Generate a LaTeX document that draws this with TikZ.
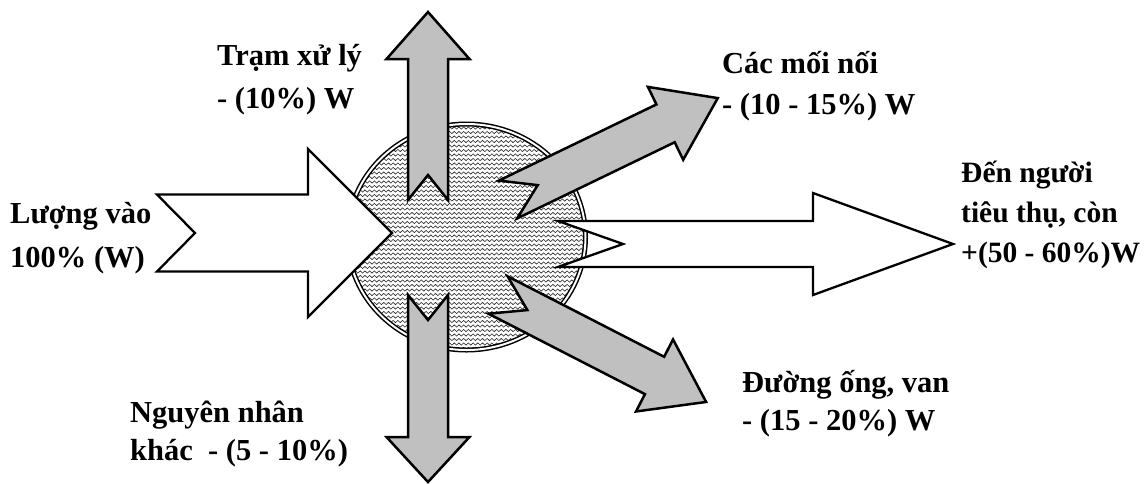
\documentclass[tikz,border=0pt]{standalone}
\usepackage{fontspec}
\setmainfont{Liberation Serif}
\usetikzlibrary{decorations.pathmorphing}
\definecolor{arrgray}{RGB}{192,192,192}
% notched block arrow: style, tail centre, angle, length, half shaft, half head, head length, notch
\newcommand{\flowarrow}[8]{%
  \draw[#1,shift={#2},rotate=#3] (0,-#5) -- ({#4-#7},-#5) -- ({#4-#7},-#6) -- (#4,0)
    -- ({#4-#7},#6) -- ({#4-#7},#5) -- (0,#5) -- (#8,0) -- cycle;}

\begin{document}
\begin{tikzpicture}[x=1pt,y=-1pt,
  lbl/.style={font=\bfseries\fontsize{30.5}{#1}\selectfont,align=left,anchor=base west,inner sep=0pt},
  lbl/.default=41,
  outarr/.style={line width=2.5pt,line join=miter,fill=arrgray},
  inarr/.style={line width=2.3pt,line join=miter,fill=white},
  wave/.style={black!85,line width=0.6pt,decorate,decoration={snake,segment length=4.7pt,amplitude=1.1pt}}]
\useasboundingbox (0,0) rectangle (1145,483);
\coordinate (O) at (466.5,237);
% textured tank
\begin{scope}
\clip (O) ellipse (119 and 113);
\foreach \y in {119,123.5,...,356}{\draw[wave] (340,\y) -- (600,\y);}
\end{scope}
\draw[line width=1.5pt,double,double distance=2pt] (O) ellipse (119 and 113);
% flows
\flowarrow{inarr}{(157,233)}{0}{235}{38.5}{84}{84}{38}
\flowarrow{inarr}{(558,244)}{0}{395}{23}{51}{140}{65}
\flowarrow{outarr}{(428,200)}{90}{188}{20}{41.5}{47}{25}
\flowarrow{outarr}{(428,295)}{-90}{187}{20}{41.5}{45}{25}
\flowarrow{outarr}{(508,199.5)}{25.8}{233}{21}{40.5}{58}{33}
\flowarrow{outarr}{(498,295)}{-27.2}{234}{21}{40.5}{58}{33}
% labels (anchored at the baseline of the last line)
\node[lbl=43] (tram) at (217,108) {Trạm xử lý\\- (10\%) W};
\node[lbl] (moinoi) at (722,114) {Các mối nối\\- (10 - 15\%) W};
\node[lbl=40,font=\bfseries\fontsize{29.5}{40}\selectfont] (tieuthu) at (961,262) {Đến người\\tiêu thụ, còn\\+(50 - 60\%)W};
\node[lbl=44] (luongvao) at (10,267) {Lượng vào\\100\% (W)};
\node[lbl=38] (duongong) at (742,430) {Đường ống, van\\- (15 - 20\%) W};
\node[lbl=38] (nguyennhan) at (130,460) {Nguyên nhân\\khác \ - (5 - 10\%)};
\end{tikzpicture}
\end{document}
